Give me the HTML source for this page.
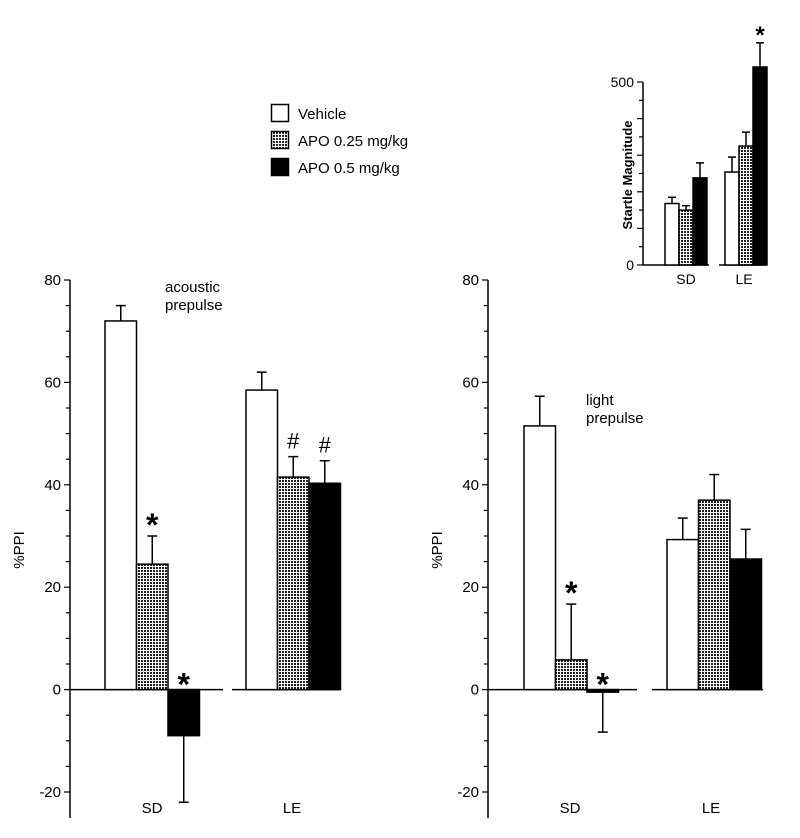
<!DOCTYPE html>
<html><head><meta charset="utf-8"><style>
html,body{margin:0;padding:0;background:#fff;}
svg{display:block;font-family:"Liberation Sans",Arial,sans-serif;}
</style></head><body>
<svg id="c" width="800" height="838" viewBox="0 0 800 838" xmlns="http://www.w3.org/2000/svg">
<defs>
<pattern id="dots" width="3" height="3" patternUnits="userSpaceOnUse">
<rect width="3" height="3" fill="#fff"/><rect width="2" height="2" fill="#222"/>
</pattern>
</defs>
<g>
<rect x="271.5" y="104.5" width="17" height="17" fill="#fff" stroke="#000" stroke-width="1.5"/>
<text x="298" y="119" font-size="15">Vehicle</text>
<rect x="271.5" y="131.5" width="17" height="17" fill="url(#dots)" stroke="#000" stroke-width="1.5"/>
<text x="298" y="146" font-size="15">APO 0.25 mg/kg</text>
<rect x="271.5" y="158.5" width="17" height="17" fill="#000" stroke="#000" stroke-width="1.5"/>
<text x="298" y="173" font-size="15">APO 0.5 mg/kg</text>
</g>
</svg>
<script>
const fills=['#fff','url(#dots)','#000'];
// left panel (acoustic)
const acVals=[[72,24.5,-9],[58.5,41.5,40.3]];
const acErr=[[3,5.5,13],[3.5,4,4.4]];
const acMarks=[['','*','*'],['','#','#']];
// right panel (light)
const liVals=[[51.5,5.8,-0.5],[29.3,37,25.5]];
const liErr=[[5.8,10.9,7.8],[4.2,5,5.8]];
const liMarks=[['','*','*'],['','','']];
const groups=['SD','LE'];
const ppiTicks=[-20,0,20,40,60,80];
// inset
const stVals=[[168,150,238],[254,325,541]];
const stErr=[[17,12,41],[41,38,66]];
const stTicks=[0,500];

const svg=document.getElementById('c');
const NS='http://www.w3.org/2000/svg';
function mk(tag,attrs,parent){const e=document.createElementNS(NS,tag);for(const k in attrs)e.setAttribute(k,attrs[k]);(parent||svg).appendChild(e);return e;}

function panel(cfg){
  const g=mk('g',{});
  
  
  const y=v=>cfg.y0-(v-cfg.vmin)*(cfg.y0-cfg.y1)/(cfg.vmax-cfg.vmin);
  const ax=mk('line',{x1:cfg.ax,x2:cfg.ax,y1:y(cfg.vmax),y2:cfg.axBottom,stroke:'#000','stroke-width':1.5},g);
  
  
  for(let v=cfg.vmin;v<=cfg.vmax+1e-9;v+=cfg.minor){
    const major=cfg.ticks.includes(v)||(cfg.majorEvery&&Math.abs(v%cfg.majorEvery)<1e-9);
    const t=mk('line',{x1:cfg.ax-(major?6:4),x2:cfg.ax,y1:y(v),y2:y(v),stroke:'#000','stroke-width':1.2},g);
    
    
  }
  cfg.ticks.forEach(v=>{
    const t=mk('text',{x:cfg.ax-9,y:y(v)+5,'font-size':cfg.fs,'text-anchor':'end'},g);
    t.textContent=v;
    
    
  });
  const yl=mk('text',{transform:`translate(${cfg.ylx},${cfg.yly}) rotate(-90)`,'font-size':cfg.yfs,'font-weight':cfg.ybold?'bold':'normal','text-anchor':'middle'},g);
  yl.textContent=cfg.ylabel;
  
  
  cfg.vals.forEach((gv,gi)=>{
    const bl=mk('line',{x1:cfg.base[gi][0],x2:cfg.base[gi][1],y1:y(0),y2:y(0),stroke:'#000','stroke-width':1.5},g);
    
    
    gv.forEach((v,i)=>{
      const x=cfg.gx[gi]+i*cfg.bw;
      const top=Math.min(y(v),y(0)),h=Math.abs(y(v)-y(0));
      const e=cfg.err[gi][i];
      const ey=v>=0?y(v+e):y(v-e);
      const el=mk('line',{x1:x+cfg.bw/2,x2:x+cfg.bw/2,y1:y(v),y2:ey,stroke:'#000','stroke-width':1.5},g);
      
      
      const ec=mk('line',{x1:x+cfg.bw/2-cfg.cap,x2:x+cfg.bw/2+cfg.cap,y1:ey,y2:ey,stroke:'#000','stroke-width':1.5},g);
      
      
      const r=mk('rect',{x:x,y:top,width:cfg.bw,height:Math.max(h,1),fill:fills[i],stroke:'#000','stroke-width':1.5},g);
      
      
      const m=cfg.marks&&cfg.marks[gi][i];
      if(m){
        const my=v>=0?y(v+e)-8:y(0)-6;
        const t=mk('text',{x:x+cfg.bw/2,y:m==='*'?my+(v>=0?8:12):my,'font-size':m==='*'?cfg.starfs:22,'font-weight':m==='*'?'bold':'normal','text-anchor':'middle'},g);
        t.textContent=m;
        
        
      }
    });
    const gl=mk('text',{x:cfg.glx[gi],y:cfg.gly,'font-size':cfg.fs,'text-anchor':'middle'},g);
    gl.textContent=groups[gi];
    
    
  });
  return g;
}
const common={vmin:-20,vmax:80,y0:792,y1:280,ticks:ppiTicks,minor:5,majorEvery:20,axBottom:818,bw:31.5,cap:5,fs:15,yfs:15,ylabel:'%PPI',gly:813,starfs:32};
panel(Object.assign({},common,{name:'acoustic-panel',ax:70,vals:acVals,err:acErr,marks:acMarks,gx:[105,246],base:[[70,223],[232,340]],glx:[152,292],ylx:24,yly:550}));
panel(Object.assign({},common,{name:'light-panel',ax:488,vals:liVals,err:liErr,marks:liMarks,gx:[524,667],base:[[488,637],[652,763]],glx:[570,711],ylx:442,yly:550}));
panel({name:'startle-inset',vmin:0,vmax:500,y0:265,y1:82,ticks:stTicks,minor:50,majorEvery:100,axBottom:265,ax:643,vals:stVals,err:stErr,marks:[['','',''],['','','*']],gx:[665,725],bw:14,cap:4,base:[[643,709],[719,766]],glx:[686,744],gly:284,fs:14,yfs:13,ybold:true,ylabel:'Startle Magnitude',ylx:632,yly:175,starfs:24});

function txt(s,x,y,name){const t=mk('text',{x:x,y:y,'font-size':15});t.textContent=s;}
txt('acoustic',165,292,'annotation-acoustic');
txt('prepulse',165,310,'annotation-acoustic-prepulse');
txt('light',586,405,'annotation-light');
txt('prepulse',586,423,'annotation-light-prepulse');
</script>
</body></html>
